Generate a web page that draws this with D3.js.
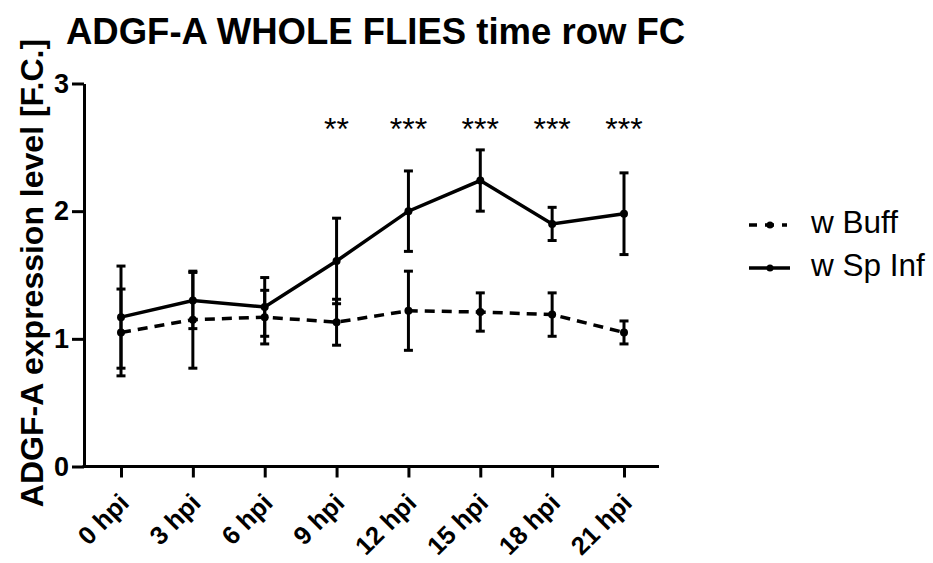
<!DOCTYPE html>
<html>
<head>
<meta charset="utf-8">
<script src="https://cdn.jsdelivr.net/npm/d3@7"></script>
<style>
  body { margin: 0; background: #fff; }
  text { font-family: "Liberation Sans", Arial, sans-serif; fill: #000; }
</style>
</head>
<body>
<div id="chart"></div>
<script>
// data
var timepoints = ["0 hpi", "3 hpi", "6 hpi", "9 hpi", "12 hpi", "15 hpi", "18 hpi", "21 hpi"];
var buffMean = [1.05, 1.15, 1.17, 1.13, 1.22, 1.21, 1.19, 1.05];
var buffErr  = [0.34, 0.38, 0.21, 0.18, 0.31, 0.15, 0.17, 0.09];
var infMean  = [1.17, 1.30, 1.25, 1.61, 2.00, 2.24, 1.90, 1.98];
var infErr   = [0.40, 0.22, 0.23, 0.335, 0.315, 0.24, 0.13, 0.32];
var stars    = ["", "", "", "**", "***", "***", "***", "***"];
var yTicks   = [0, 1, 2, 3];

var width = 933, height = 563;
var margin = {top: 84, left: 84, bottom: 97, right: 273};

var svg = d3.select("#chart").append("svg")
    .attr("width", width)
    .attr("height", height);

// x positions of the time points
var x = d3.scalePoint()
    .domain(timepoints)
    .range([121, 624]);

var y = d3.scaleLinear()
    .domain([0, 3])
    .range([466.5, 83.5]);

// title
svg.append("text")
    .attr("x", 66)
    .attr("y", 44)
    .style("font-size", "36.5px")
    .style("font-weight", "bold")
    .text("ADGF-A WHOLE FLIES time row FC");

// y axis
var yAxis = svg.append("g")
    .attr("transform", "translate(" + margin.left + ",0)")
    .call(d3.axisLeft(y).tickValues(yTicks).tickFormat(d3.format("d")).tickSize(12).tickSizeOuter(0).tickPadding(3));
yAxis.select(".domain").attr("stroke-width", 3);
yAxis.selectAll(".tick line").attr("stroke-width", 3);
yAxis.selectAll(".tick text")
    .style("font-size", "27px")
    .style("font-weight", "bold")
    .style("font-family", "'Liberation Sans', Arial, sans-serif");

// x axis
var xAxis = svg.append("g")
    .attr("transform", "translate(0," + y(0) + ")")
    .call(d3.axisBottom(x).tickSize(11).tickSizeOuter(0));
xAxis.select(".domain")
    .attr("d", "M" + (margin.left - 1.5) + ",0H659")
    .attr("stroke-width", 3);
xAxis.selectAll(".tick line").attr("stroke-width", 3);
xAxis.selectAll(".tick text")
    .style("font-size", "25.5px")
    .style("font-weight", "bold")
    .style("font-family", "'Liberation Sans', Arial, sans-serif")
    .attr("text-anchor", "end")
    .attr("dy", null)
    .attr("y", 0)
    .attr("transform", "translate(9,38) rotate(-45)");

// y axis label
svg.append("text")
    .attr("transform", "translate(43,273) rotate(-90)")
    .attr("text-anchor", "middle")
    .style("font-size", "32px")
    .style("font-weight", "bold")
    .text("ADGF-A expression level [F.C.]");

function drawSeries(means, errs, dashed) {
  var g = svg.append("g");
  var pts = timepoints.map(function(t, i) { return {t: t, m: means[i], e: errs[i]}; });

  var line = d3.line()
      .x(function(d) { return x(d.t); })
      .y(function(d) { return y(d.m); });

  g.append("path")
      .datum(pts)
      .attr("d", line)
      .attr("fill", "none")
      .attr("stroke", "#000")
      .attr("stroke-width", 3.5)
      .attr("stroke-dasharray", dashed ? "10,7" : null);

  var bars = g.selectAll(".err").data(pts).enter().append("g");
  bars.append("line")
      .attr("x1", function(d) { return x(d.t); })
      .attr("x2", function(d) { return x(d.t); })
      .attr("y1", function(d) { return y(d.m + d.e); })
      .attr("y2", function(d) { return y(d.m - d.e); })
      .attr("stroke", "#000")
      .attr("stroke-width", 3);
  [1, -1].forEach(function(s) {
    bars.append("line")
        .attr("x1", function(d) { return x(d.t) - 4.5; })
        .attr("x2", function(d) { return x(d.t) + 4.5; })
        .attr("y1", function(d) { return y(d.m + s * d.e); })
        .attr("y2", function(d) { return y(d.m + s * d.e); })
        .attr("stroke", "#000")
        .attr("stroke-width", 3);
  });

  g.selectAll(".pt").data(pts).enter().append("circle")
      .attr("cx", function(d) { return x(d.t); })
      .attr("cy", function(d) { return y(d.m); })
      .attr("r", 4)
      .attr("fill", "#000");
}

drawSeries(buffMean, buffErr, true);
drawSeries(infMean, infErr, false);

// significance stars
svg.selectAll(".star").data(timepoints).enter().append("text")
    .attr("x", function(d) { return x(d); })
    .attr("y", 140)
    .attr("text-anchor", "middle")
    .style("font-size", "32px")
    .text(function(d, i) { return stars[i]; });

// legend
var legend = [{name: "w Buff", dashed: true, y: 225}, {name: "w Sp Inf", dashed: false, y: 268}];
var lg = svg.selectAll(".leg").data(legend).enter().append("g");
lg.append("line")
    .attr("x1", 749).attr("x2", 790)
    .attr("y1", function(d) { return d.y; })
    .attr("y2", function(d) { return d.y; })
    .attr("stroke", "#000")
    .attr("stroke-width", 3.5)
    .attr("stroke-dasharray", function(d) { return d.dashed ? "8,8,9,8,5,6,3" : null; });
lg.append("circle")
    .attr("cx", 770)
    .attr("cy", function(d) { return d.y; })
    .attr("r", 3.5)
    .attr("fill", "#000");
lg.append("text")
    .attr("x", 811)
    .attr("y", function(d) { return d.y + 8; })
    .style("font-size", "31.5px")
    .text(function(d) { return d.name; });
</script>
</body>
</html>
